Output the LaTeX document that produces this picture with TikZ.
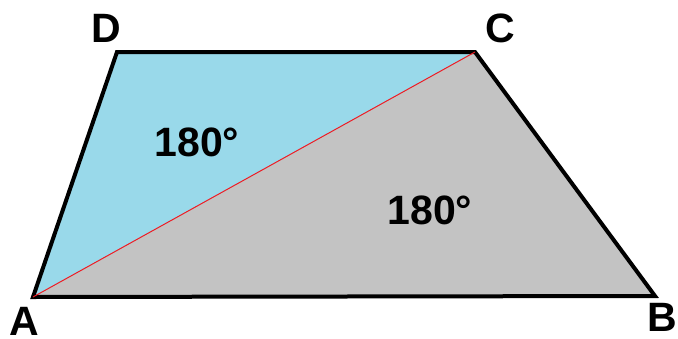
\documentclass[tikz,border=0pt]{standalone}
\usepackage{fontspec}
\setmainfont{Liberation Sans}
\begin{document}
\begin{tikzpicture}[x=1pt,y=-1pt,
  lbl/.style={font=\fontsize{41}{41}\selectfont\bfseries, inner sep=0pt, text=black},
  edge/.style={line width=4pt, line join=miter, line cap=butt}]
\definecolor{lblue}{RGB}{153,217,234}
\definecolor{lgray}{RGB}{195,195,195}
\definecolor{lred}{RGB}{237,28,36}
\useasboundingbox (0,0) rectangle (678,338);
\coordinate (A) at (33,297);
\coordinate (B) at (655,296);
\coordinate (C) at (475,52);
\coordinate (D) at (117,52);
\fill[lblue] (A) -- (C) -- (D) -- cycle;
\fill[lgray] (A) -- (B) -- (C) -- cycle;
\draw[edge] (A) -- (B) -- (C) -- (D) -- cycle;
\draw[lred, line width=1pt] (A) -- (C);
\node[lbl] (la) at (24,321) {A};
\node[lbl] (lb) at (662,317) {B};
\node[lbl] (lc) at (500,28) {C};
\node[lbl] (ld) at (106,28) {D};
\node[lbl] (t1) at (197,142) {180°};
\node[lbl] (t2) at (430,210) {180°};
\end{tikzpicture}
\end{document}
